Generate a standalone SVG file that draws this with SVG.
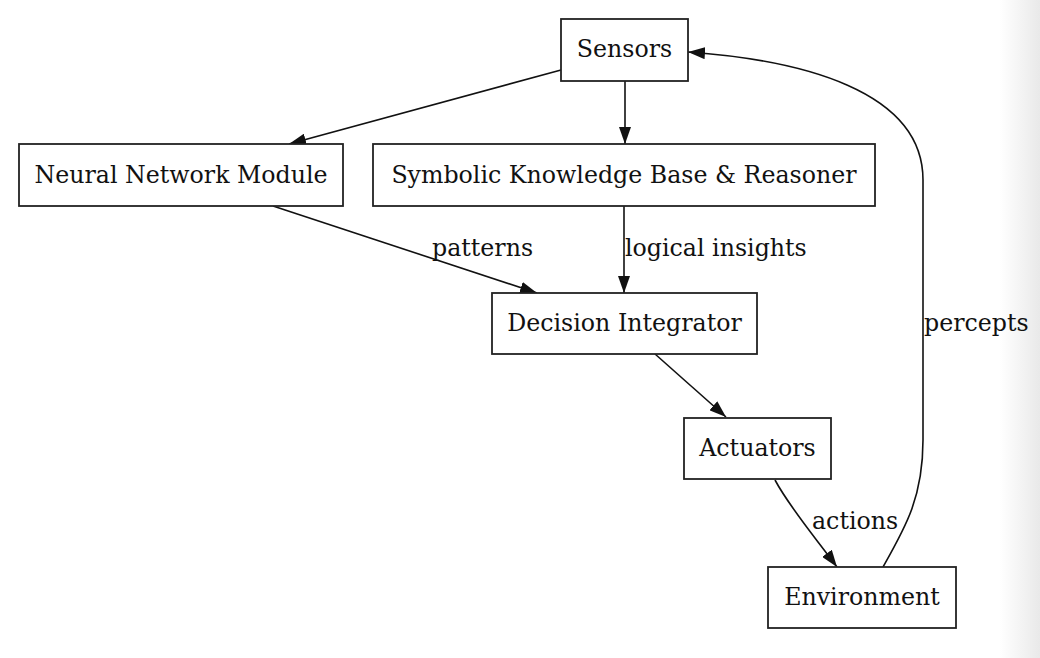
<svg xmlns="http://www.w3.org/2000/svg" width="1040" height="658" viewBox="0 0 1040 658">
<style>
.node rect{fill:#fff;stroke:#222;stroke-width:1.8}
.node text,.lbl{font-family:"DejaVu Serif","Liberation Serif",serif;font-size:23.7px;fill:#111}
.node text{text-anchor:middle}
#edges path{fill:none;stroke:#111;stroke-width:1.6;marker-end:url(#ah)}
</style>
<defs>
<marker id="ah" viewBox="0 0 17 12" refX="17" refY="6" markerWidth="17" markerHeight="12" markerUnits="userSpaceOnUse" orient="auto">
<path d="M0,0 L17,6 L0,12 z" fill="#111"/>
</marker>
<linearGradient id="edge" x1="0" y1="0" x2="1" y2="0">
<stop offset="0" stop-color="#fff"/>
<stop offset="1" stop-color="#e9e9e9"/>
</linearGradient>
</defs>
<rect x="0" y="0" width="1040" height="658" fill="#fff"/>
<rect x="1000" y="0" width="40" height="658" fill="url(#edge)"/>
<g id="edges">
<path d="M561,70 L289,144"/>
<path d="M625,81 L625,144"/>
<path d="M273,206 L537,293"/>
<path d="M624,206 L624,293"/>
<path d="M655,354 L726,417"/>
<path d="M775,480 C790,508 815,537 837,567"/>
<path d="M883,567 C905,528 923,498 923,440 L923,180 C923,90 800,60 688,52"/>
<text class="lbl" x="432" y="256">patterns</text>
<text class="lbl" x="625" y="256">logical insights</text>
<text class="lbl" x="812" y="529">actions</text>
<text class="lbl" x="924" y="331">percepts</text>
</g>
<g id="sensors" class="node"><rect x="561" y="19" width="127" height="62"/><text x="624.5" y="57">Sensors</text></g>
<g id="nnm" class="node"><rect x="19" y="144" width="324" height="62"/><text x="181" y="183">Neural Network Module</text></g>
<g id="skb" class="node"><rect x="373" y="144" width="502" height="62"/><text x="624" y="183">Symbolic Knowledge Base &amp; Reasoner</text></g>
<g id="di" class="node"><rect x="492" y="293" width="265" height="61"/><text x="624.5" y="331">Decision Integrator</text></g>
<g id="act" class="node"><rect x="684" y="418" width="147" height="61"/><text x="757.5" y="456">Actuators</text></g>
<g id="env" class="node"><rect x="768" y="567" width="188" height="61"/><text x="862" y="605">Environment</text></g>
</svg>
